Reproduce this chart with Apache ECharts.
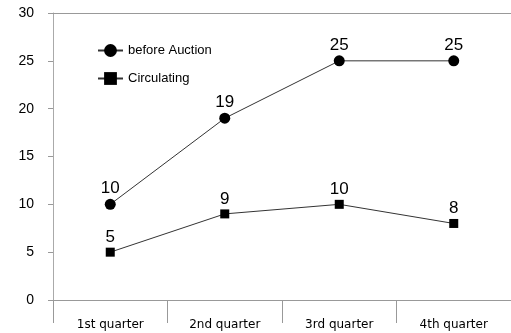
<!DOCTYPE html>
<html>
<head>
<meta charset="utf-8">
<script src="https://cdn.jsdelivr.net/npm/echarts@6/dist/echarts.min.js"></script>
<style>
  html,body{margin:0;padding:0;background:#fff;}
  #chart{width:511px;height:333px;}
</style>
</head>
<body>
<div id="chart"></div>
<script>
  // 数据
  const categories = ['1st quarter', '2nd quarter', '3rd quarter', '4th quarter'];
  const beforeAuction = [10, 19, 25, 25];
  const circulating = [5, 9, 10, 8];
  const seriesNames = ['before Auction', 'Circulating'];

  let myChart = echarts.init(document.getElementById('chart'));
  let font = 'Liberation Sans, Arial, sans-serif';
  let lineColor = '#333';

  let option = {
    animation: false,
    textStyle: { fontFamily: font },
    legend: {
      orient: 'vertical',
      left: 92,
      top: 39,
      itemGap: 15,
      itemWidth: 25,
      itemHeight: 16,
      data: seriesNames,
      textStyle: { color: '#000', fontSize: 13, fontFamily: font }
    },
    grid: { left: 53, right: -5, top: 13, bottom: 33 },
    xAxis: [{
      type: 'category',
      data: categories,
      boundaryGap: true,
      axisLine: { lineStyle: { color: '#999', width: 1 } },
      axisTick: { show: true, alignWithLabel: false, length: 23, lineStyle: { color: '#999' } },
      axisLabel: { color: '#000', fontSize: 12, margin: 19, fontFamily: 'DejaVu Sans, sans-serif' }
    }, {
      type: 'category',
      data: categories,
      position: 'top',
      axisLine: { lineStyle: { color: '#999', width: 1 } },
      axisTick: { show: false },
      axisLabel: { show: false }
    }],
    yAxis: {
      type: 'value',
      min: 0,
      max: 30,
      interval: 5,
      axisLine: { show: true, lineStyle: { color: '#aaa' } },
      axisTick: { show: true, length: 5, lineStyle: { color: '#999' } },
      axisLabel: { color: '#000', fontSize: 14, margin: 19, fontFamily: font },
      splitLine: { show: false }
    },
    series: [{
      name: seriesNames[0],
      type: 'line',
      data: beforeAuction,
      symbol: 'circle',
      symbolSize: 11,
      itemStyle: { color: '#000' },
      lineStyle: { color: lineColor, width: 1 },
      label: { show: true, position: 'top', distance: 2, color: '#000', fontSize: 17, fontFamily: font }
    }, {
      name: seriesNames[1],
      type: 'line',
      data: circulating,
      symbol: 'rect',
      symbolSize: 9,
      itemStyle: { color: '#000' },
      lineStyle: { color: lineColor, width: 1 },
      label: { show: true, position: 'top', distance: 2, color: '#000', fontSize: 17, fontFamily: font }
    }]
  };

  myChart.setOption(option);
</script>
</body>
</html>
